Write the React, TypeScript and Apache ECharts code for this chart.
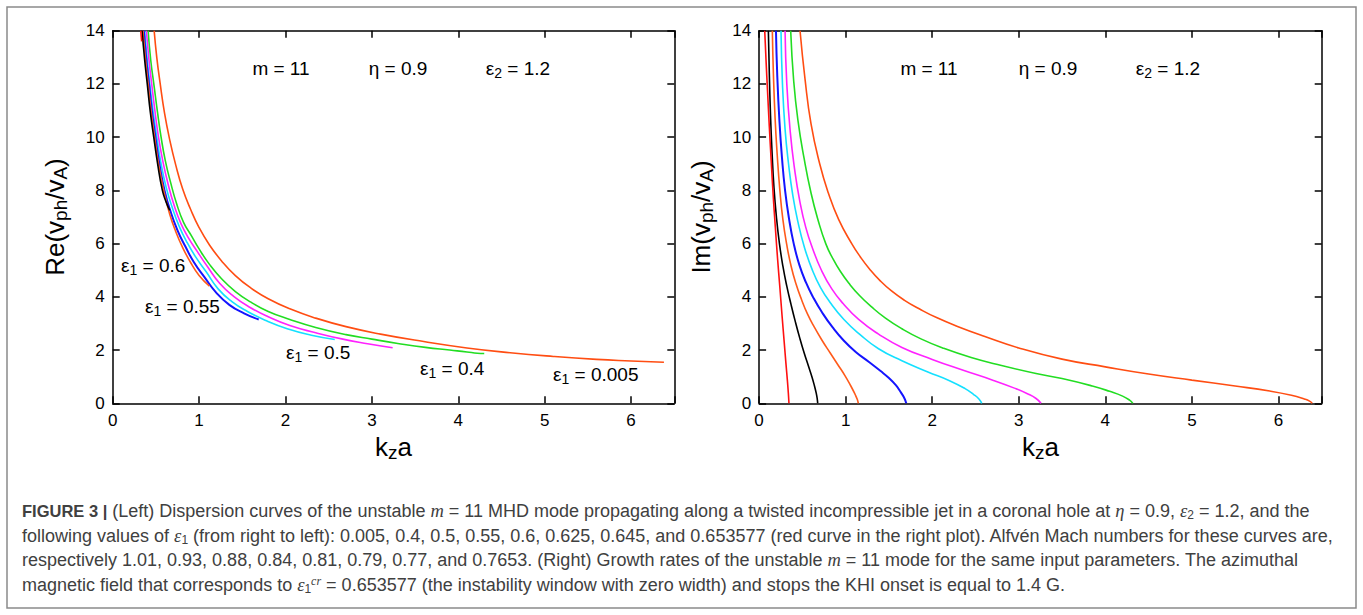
import { useEffect, useRef } from "react";
import * as echarts from "echarts";

// ---------- DATA ----------
const xTickValues = [0, 1, 2, 3, 4, 5, 6];
const yTickValues = [0, 2, 4, 6, 8, 10, 12, 14];

// Left panel: Re(v_ph/v_A) vs k_z a
const reK_e0005 = [0.48, 0.51, 0.55, 0.6, 0.66, 0.73, 0.81, 0.9, 1.0, 1.12, 1.26, 1.42, 1.6, 1.8, 2.05, 2.35, 2.7, 3.1, 3.6, 4.1, 4.6, 5.1, 5.6, 6.0, 6.38];
const reV_e0005 = [14, 13.0, 12.0, 10.9, 9.9, 8.95, 8.05, 7.3, 6.6, 5.95, 5.35, 4.8, 4.33, 3.93, 3.55, 3.2, 2.88, 2.6, 2.32, 2.08, 1.9, 1.76, 1.65, 1.59, 1.54];
const reK_e04 = [0.41, 0.44, 0.48, 0.52, 0.56, 0.61, 0.67, 0.74, 0.82, 0.91, 1.0, 1.12, 1.26, 1.42, 1.6, 1.8, 2.05, 2.35, 2.7, 3.0, 3.3, 3.62, 3.9, 4.1, 4.22, 4.3];
const reV_e04 = [14, 12.9, 11.9, 10.9, 10.0, 9.1, 8.3, 7.5, 6.8, 6.3, 5.8, 5.22, 4.68, 4.2, 3.8, 3.45, 3.15, 2.85, 2.58, 2.41, 2.25, 2.1, 2.0, 1.93, 1.88, 1.87];
const reK_e05 = [0.39, 0.42, 0.455, 0.49, 0.53, 0.58, 0.64, 0.71, 0.79, 0.88, 0.98, 1.1, 1.24, 1.4, 1.58, 1.8, 2.05, 2.35, 2.65, 2.95, 3.24];
const reV_e05 = [14, 12.9, 11.9, 10.95, 10.0, 9.1, 8.25, 7.45, 6.75, 6.2, 5.7, 5.12, 4.5, 4.02, 3.62, 3.25, 2.92, 2.65, 2.42, 2.24, 2.09];
const reK_e055 = [0.37, 0.4, 0.435, 0.47, 0.51, 0.56, 0.62, 0.69, 0.77, 0.86, 0.96, 1.08, 1.22, 1.38, 1.56, 1.78, 2.02, 2.3, 2.57];
const reV_e055 = [14, 12.9, 11.85, 10.9, 10.0, 9.0, 8.1, 7.35, 6.65, 6.05, 5.5, 4.95, 4.3, 3.82, 3.45, 3.1, 2.8, 2.56, 2.4];
const reK_e06 = [0.36, 0.39, 0.42, 0.455, 0.495, 0.54, 0.6, 0.67, 0.75, 0.84, 0.94, 1.06, 1.2, 1.35, 1.52, 1.69];
const reV_e06 = [14, 12.9, 12.0, 10.95, 10.0, 9.0, 8.0, 7.2, 6.5, 5.9, 5.3, 4.75, 4.15, 3.7, 3.38, 3.15];
const reK_e0625 = [0.35, 0.38, 0.41, 0.445, 0.485, 0.53, 0.59, 0.66, 0.73, 0.81, 0.9, 1.0, 1.12];
const reV_e0625 = [14, 12.9, 12.0, 10.95, 10.0, 9.0, 8.0, 7.1, 6.45, 5.85, 5.3, 4.8, 4.4];
const reK_e0645 = [0.34, 0.37, 0.4, 0.435, 0.475, 0.52, 0.575, 0.62, 0.66];
const reV_e0645 = [14, 12.9, 12.0, 10.95, 10.0, 9.0, 8.0, 7.55, 7.25];
const reK_e0653 = [0.325, 0.335];
const reV_e0653 = [14, 13.6];

// Right panel: Im(v_ph/v_A) vs k_z a
const imK_e0005 = [0.473, 0.53, 0.6, 0.7, 0.8, 0.92, 1.07, 1.17, 1.28, 1.4, 1.53, 1.68, 1.85, 2.05, 2.3, 2.6, 3.0, 3.5, 4.0, 4.5, 5.0, 5.5, 5.9, 6.15, 6.3, 6.36, 6.39];
const imV_e0005 = [14, 12.2, 10.5, 9.0, 7.9, 6.9, 6.0, 5.5, 5.03, 4.6, 4.22, 3.87, 3.55, 3.22, 2.88, 2.52, 2.08, 1.66, 1.37, 1.1, 0.87, 0.65, 0.46, 0.3, 0.16, 0.08, 0];
const imK_e04 = [0.365, 0.4, 0.45, 0.52, 0.6, 0.68, 0.77, 0.85, 0.94, 1.04, 1.16, 1.3, 1.46, 1.65, 1.87, 2.12, 2.45, 2.8, 3.2, 3.5, 3.85, 4.05, 4.2, 4.28, 4.317];
const imV_e04 = [14, 12.1, 10.6, 9.2, 7.9, 6.9, 6.0, 5.45, 4.95, 4.5, 4.05, 3.62, 3.2, 2.8, 2.42, 2.08, 1.72, 1.42, 1.12, 0.93, 0.65, 0.45, 0.27, 0.12, 0];
const imK_e05 = [0.3, 0.32, 0.36, 0.41, 0.47, 0.54, 0.62, 0.72, 0.84, 0.97, 1.15, 1.38, 1.65, 2.0, 2.35, 2.7, 2.95, 3.1, 3.2, 3.257];
const imV_e05 = [14, 12, 10.2, 8.8, 7.6, 6.6, 5.8, 5.0, 4.3, 3.75, 3.15, 2.6, 2.1, 1.65, 1.25, 0.87, 0.57, 0.36, 0.18, 0];
const imK_e055 = [0.253, 0.27, 0.3, 0.34, 0.39, 0.45, 0.52, 0.61, 0.71, 0.83, 0.98, 1.16, 1.38, 1.65, 1.95, 2.2, 2.38, 2.48, 2.54, 2.572];
const imV_e055 = [14, 12, 10.3, 9.0, 7.8, 6.8, 5.9, 5.05, 4.35, 3.75, 3.15, 2.6, 2.05, 1.6, 1.18, 0.85, 0.55, 0.33, 0.16, 0];
const imK_e06 = [0.195, 0.21, 0.235, 0.265, 0.3, 0.345, 0.4, 0.465, 0.54, 0.63, 0.73, 0.85, 0.98, 1.12, 1.27, 1.4, 1.5, 1.58, 1.64, 1.68, 1.7];
const imV_e06 = [14, 12.3, 10.6, 9.2, 8.0, 6.95, 6.0, 5.2, 4.55, 3.95, 3.4, 2.85, 2.35, 1.92, 1.55, 1.22, 0.95, 0.68, 0.4, 0.18, 0];
const imK_e0625 = [0.153, 0.165, 0.185, 0.21, 0.24, 0.275, 0.32, 0.37, 0.425, 0.49, 0.56, 0.64, 0.73, 0.82, 0.91, 0.99, 1.06, 1.11, 1.135, 1.146];
const imV_e0625 = [14, 12.4, 10.7, 9.3, 8.0, 6.9, 5.95, 5.15, 4.5, 3.9, 3.35, 2.85, 2.35, 1.9, 1.45, 1.05, 0.65, 0.33, 0.14, 0];
const imK_e0645 = [0.107, 0.118, 0.132, 0.15, 0.172, 0.2, 0.235, 0.275, 0.32, 0.37, 0.42, 0.47, 0.52, 0.57, 0.61, 0.64, 0.66, 0.672, 0.677];
const imV_e0645 = [14, 12.4, 10.8, 9.4, 8.1, 7.0, 6.0, 5.15, 4.4, 3.7, 3.05, 2.45, 1.9, 1.4, 1.0, 0.65, 0.38, 0.16, 0];
const imK_e0653 = [0.065, 0.08, 0.098, 0.118, 0.14, 0.163, 0.188, 0.213, 0.24, 0.265, 0.29, 0.31, 0.327, 0.338, 0.345];
const imV_e0653 = [14, 12.9, 11.7, 10.4, 9.1, 7.8, 6.6, 5.45, 4.35, 3.3, 2.3, 1.5, 0.85, 0.38, 0];

const curveNames = ["0.005", "0.4", "0.5", "0.55", "0.6", "0.625", "0.645", "0.653577"];
const curveColors = ["#ff4d12", "#22dd22", "#ff22ff", "#14e0ff", "#1414ff", "#ff5a1a", "#000000", "#ff1010"];
const reCurves = [
  [reK_e0005, reV_e0005], [reK_e04, reV_e04], [reK_e05, reV_e05], [reK_e055, reV_e055],
  [reK_e06, reV_e06], [reK_e0625, reV_e0625], [reK_e0645, reV_e0645], [reK_e0653, reV_e0653],
];
const imCurves = [
  [imK_e0005, imV_e0005], [imK_e04, imV_e04], [imK_e05, imV_e05], [imK_e055, imV_e055],
  [imK_e06, imV_e06], [imK_e0625, imV_e0625], [imK_e0645, imV_e0645], [imK_e0653, imV_e0653],
];

const paramLabels = ["m = 11", "η = 0.9", "1.2"];
const epsLabels = ["0.6", "0.55", "0.5", "0.4", "0.005"];

const captionLines = [
  "{b|FIGURE 3 |}{t| (Left) Dispersion curves of the unstable }{m|m}{t| = 11 MHD mode propagating along a twisted incompressible jet in a coronal hole at }{m|η}{t| = 0.9, }{m|ε}{sb|2}{t| = 1.2, and the}",
  "{t|following values of }{m|ε}{sb|1}{t| (from right to left): 0.005, 0.4, 0.5, 0.55, 0.6, 0.625, 0.645, and 0.653577 (red curve in the right plot). Alfvén Mach numbers for these curves are,}",
  "{t|respectively 1.01, 0.93, 0.88, 0.84, 0.81, 0.79, 0.77, and 0.7653. (Right) Growth rates of the unstable }{m|m}{t| = 11 mode for the same input parameters. The azimuthal}",
  "{t|magnetic field that corresponds to }{m|ε}{sb|1}{sp|cr}{t| = 0.653577 (the instability window with zero width) and stops the KHI onset is equal to 1.4 G.}",
];

// ---------- STYLE ----------
const SANS = "'Liberation Sans', Arial, Helvetica, sans-serif";
const SERIF = "'Liberation Serif', 'DejaVu Serif', serif";
const GRIDS = [
  { left: 112.7, top: 30.7, width: 561.6, height: 372.6 },
  { left: 759.1, top: 30.7, width: 562.6, height: 372.6 },
];

function xAxisPair(g: number) {
  const base = {
    type: "value", gridIndex: g, min: 0, max: 6.5, interval: 1,
    axisLine: { show: true, onZero: false, lineStyle: { color: "#000", width: 1.5 } },
    axisTick: { show: true, inside: true, length: 7, lineStyle: { color: "#000", width: 1.5 } },
    splitLine: { show: false },
  };
  return [
    {
      ...base, position: "bottom",
      axisLabel: {
        show: true, margin: 9, fontSize: 17, color: "#000", fontFamily: SANS,
        formatter: (v: number) => (xTickValues.includes(v) ? String(v) : ""),
      },
    },
    { ...base, position: "top", axisLabel: { show: false } },
  ];
}
function yAxisPair(g: number) {
  const base = {
    type: "value", gridIndex: g, min: 0, max: 14, interval: 2,
    axisLine: { show: true, onZero: false, lineStyle: { color: "#000", width: 1.5 } },
    axisTick: { show: true, inside: true, length: 7, lineStyle: { color: "#000", width: 1.5 } },
    splitLine: { show: false },
  };
  return [
    {
      ...base, position: "left",
      axisLabel: {
        show: true, margin: 8, fontSize: 17, color: "#000", fontFamily: SANS,
        formatter: (v: number) => (yTickValues.includes(v) ? String(v) : ""),
      },
    },
    { ...base, position: "right", axisLabel: { show: false } },
  ];
}

const subRich = {
  a: { fontSize: 19, fontFamily: SANS, fill: "#000" },
  s: { fontSize: 14, fontFamily: SANS, fill: "#000", padding: [10, 0, 0, 0] },
};

function textEl(x: number, y: number, text: string, align = "left") {
  return {
    type: "text", x, y, silent: true,
    style: { text, rich: subRich, align, verticalAlign: "middle", fontSize: 19, fontFamily: SANS, fill: "#000" },
  };
}

export default function App() {
  const ref = useRef<HTMLDivElement>(null);
  useEffect(() => {
    if (!ref.current) return;
    const chart = echarts.init(ref.current, null, { renderer: "svg" });

    const series: any[] = [];
    reCurves.forEach(([xs, ys], i) => {
      series.push({
        type: "line", name: "Re " + curveNames[i], xAxisIndex: 0, yAxisIndex: 0,
        data: xs.map((x, j) => [x, ys[j]]), showSymbol: false, smooth: 0.5, clip: true,
        lineStyle: { color: curveColors[i], width: i === 4 ? 2 : 1.6 }, z: 3,
      });
    });
    imCurves.forEach(([xs, ys], i) => {
      series.push({
        type: "line", name: "Im " + curveNames[i], xAxisIndex: 2, yAxisIndex: 2,
        data: xs.map((x, j) => [x, ys[j]]), showSymbol: false, smooth: 0.5, clip: true,
        lineStyle: { color: curveColors[i], width: i === 4 ? 2 : 1.6 }, z: 3,
      });
    });

    const axisTitleRich = {
      a: { fontSize: 26, fontFamily: SANS, fill: "#000" },
      s: { fontSize: 19, fontFamily: SANS, fill: "#000", padding: [11, 0, 0, 0] },
    };
    const capRich = {
      t: { fontSize: 18, fontFamily: SANS, fill: "#404040" },
      b: { fontSize: 16.5, fontFamily: SANS, fontWeight: "bold", fill: "#404040" },
      m: { fontSize: 18.5, fontFamily: SERIF, fontStyle: "italic", fill: "#404040" },
      sb: { fontSize: 12, fontFamily: SANS, fill: "#404040", padding: [8, 0, 0, 0] },
      sp: { fontSize: 12, fontFamily: SERIF, fontStyle: "italic", fill: "#404040", padding: [0, 0, 9, 0] },
    };

    const graphics: any[] = [
      {
        type: "rect", silent: true,
        shape: { x: 7, y: 7, width: 1349, height: 601 },
        style: { fill: "none", stroke: "#8a8a8a", lineWidth: 1.5 },
      },
      // axis titles
      {
        type: "text", x: 55, y: 217, rotation: Math.PI / 2, silent: true,
        style: { text: "{a|Re(v}{s|ph}{a|/v}{s|A}{a|)}", rich: axisTitleRich, align: "center", verticalAlign: "middle" },
      },
      {
        type: "text", x: 701, y: 217, rotation: Math.PI / 2, silent: true,
        style: { text: "{a|Im(v}{s|ph}{a|/v}{s|A}{a|)}", rich: axisTitleRich, align: "center", verticalAlign: "middle" },
      },
      {
        type: "text", x: 393.5, y: 447, silent: true,
        style: { text: "{a|k}{s|z}{a|a}", rich: axisTitleRich, align: "center", verticalAlign: "middle" },
      },
      {
        type: "text", x: 1040.4, y: 447, silent: true,
        style: { text: "{a|k}{s|z}{a|a}", rich: axisTitleRich, align: "center", verticalAlign: "middle" },
      },
      // parameter annotations
      textEl(281, 68, `{a|${paramLabels[0]}}`, "center"),
      textEl(398, 68, `{a|${paramLabels[1]}}`, "center"),
      textEl(518, 68, `{a|ε}{s|2}{a| = ${paramLabels[2]}}`, "center"),
      textEl(929, 68, `{a|${paramLabels[0]}}`, "center"),
      textEl(1048, 68, `{a|${paramLabels[1]}}`, "center"),
      textEl(1168, 68, `{a|ε}{s|2}{a| = ${paramLabels[2]}}`, "center"),
      // epsilon_1 labels
      textEl(121, 265, `{a|ε}{s|1}{a| = ${epsLabels[0]}}`),
      textEl(145, 306, `{a|ε}{s|1}{a| = ${epsLabels[1]}}`),
      textEl(286, 352, `{a|ε}{s|1}{a| = ${epsLabels[2]}}`),
      textEl(420, 368, `{a|ε}{s|1}{a| = ${epsLabels[3]}}`),
      textEl(553, 374, `{a|ε}{s|1}{a| = ${epsLabels[4]}}`),
    ];
    const capY = [511, 536, 560, 585];
    captionLines.forEach((line, i) => {
      graphics.push({
        type: "text", x: 22, y: capY[i], silent: true,
        style: { text: line, rich: capRich, align: "left", verticalAlign: "middle", fontSize: 18, fontFamily: SANS, fill: "#404040" },
      });
    });

    chart.setOption({
      animation: false,
      backgroundColor: "#fff",
      grid: GRIDS.map((g) => ({ ...g, containLabel: false })),
      xAxis: [...xAxisPair(0), ...xAxisPair(1)].map((a, i) => ({ ...a, gridIndex: i < 2 ? 0 : 1 })),
      yAxis: [...yAxisPair(0), ...yAxisPair(1)].map((a, i) => ({ ...a, gridIndex: i < 2 ? 0 : 1 })),
      series,
      graphic: graphics,
    });
    return () => chart.dispose();
  }, []);
  return <div ref={ref} style={{ position: "fixed", left: 0, top: 0, width: 1363, height: 615, background: "#fff" }} />;
}
